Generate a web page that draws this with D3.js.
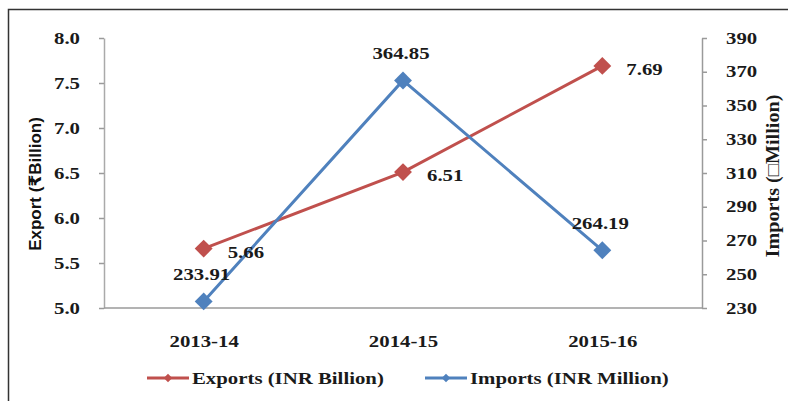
<!DOCTYPE html>
<html lang="en">
<head>
    <meta charset="UTF-8">
    <title>Exports and Imports</title>
    <style>
        body { margin: 0; background: #fff; }
        .serif { font-family: "Liberation Serif", "DejaVu Serif", serif; font-weight: bold; fill: #1a1a1a; }
    </style>
</head>
<body>
    <svg width="788" height="401" id="svg"></svg>
    <script src="https://d3js.org/d3.v7.min.js"></script>
    <script>
        // data
        const years = ["2013-14", "2014-15", "2015-16"]
        const exportsBn = [5.66, 6.51, 7.69]
        const importsMn = [233.91, 364.85, 264.19]
        const leftTicks = [5.0, 5.5, 6.0, 6.5, 7.0, 7.5, 8.0]
        const rightTicks = [230, 250, 270, 290, 310, 330, 350, 370, 390]

        const red = "#c0504d"
        const blue = "#4f81bd"
        const stretchK = 1.3

        const svg = d3.select("svg#svg")
        const plot = { left: 104, right: 702, top: 38, bottom: 308 }

        // outer frame (only top and left edges show)
        svg.append("rect")
            .attr("x", 8.5).attr("y", 9.5)
            .attr("width", 820).attr("height", 420)
            .attr("fill", "none").attr("stroke", "#333").attr("stroke-width", 1.5)

        const x = d3.scalePoint().domain(years).range([plot.left, plot.right]).padding(0.5)
        const yL = d3.scaleLinear().domain([5, 8]).range([plot.bottom, plot.top])
        const yR = d3.scaleLinear().domain([230, 390]).range([plot.bottom, plot.top])

        function styleAxis(g) {
            g.selectAll("path, line").attr("stroke", "#9a9a9a").attr("stroke-width", 1.5)
            g.selectAll("text").attr("class", "serif").attr("font-size", 16)
        }

        // stretch text horizontally like the source image
        function stretch(sel, k = stretchK) {
            sel.each(function () {
                const w = this.getComputedTextLength()
                d3.select(this).attr("textLength", w * k).attr("lengthAdjust", "spacingAndGlyphs")
            })
        }

        const gL = svg.append("g").attr("transform", `translate(${plot.left},0)`)
            .call(d3.axisLeft(yL).tickValues(leftTicks).tickFormat(d3.format(".1f")).tickSize(5).tickPadding(19).tickSizeOuter(0))
        gL.call(styleAxis)
        gL.select(".domain").attr("stroke", "#aaa")

        const gR = svg.append("g").attr("transform", `translate(${plot.right},0)`)
            .call(d3.axisRight(yR).tickValues(rightTicks).tickSize(5).tickPadding(19).tickSizeOuter(0))
        gR.call(styleAxis)

        const gB = svg.append("g").attr("transform", `translate(0,${plot.bottom})`)
            .call(d3.axisBottom(x).tickSize(0).tickPadding(28))
        gB.call(styleAxis)
        gB.select(".domain").attr("d", `M${plot.left},0H${plot.right}`)

        svg.selectAll("g.tick text").call(stretch)

        // axis titles
        svg.append("text")
            .attr("transform", "translate(41,184) rotate(-90)")
            .attr("text-anchor", "middle")
            .attr("font-family", "Liberation Sans, Arial, DejaVu Sans, sans-serif")
            .attr("font-weight", "bold").attr("font-size", 17).attr("fill", "#111")
            .text("Export (₹Billion)")

        svg.append("text")
            .attr("class", "serif")
            .attr("transform", "translate(779,176) rotate(-90)")
            .attr("text-anchor", "middle")
            .attr("font-size", 18)
            .text("Imports (□Million)")
            .call(stretch, 1.12)

        const diamond = d3.symbol().type(d3.symbolSquare).size(160)

        function drawSeries(values, yScale, color) {
            const pts = values.map((v, i) => [x(years[i]), yScale(v)])
            svg.append("path")
                .attr("d", d3.line()(pts))
                .attr("fill", "none").attr("stroke", color).attr("stroke-width", 3)
            svg.selectAll(null).data(pts).enter().append("path")
                .attr("d", diamond)
                .attr("transform", d => `translate(${d[0]},${d[1]}) rotate(45)`)
                .attr("fill", color)
            return pts
        }

        const redPts = drawSeries(exportsBn, yL, red)
        const bluePts = drawSeries(importsMn, yR, blue)

        // data labels
        svg.selectAll(null).data(redPts).enter().append("text")
            .attr("class", "serif").attr("font-size", 16)
            .attr("x", d => d[0] + 24).attr("y", d => d[1] + 9)
            .text((d, i) => exportsBn[i].toFixed(2))
            .call(stretch)

        svg.selectAll(null).data(bluePts).enter().append("text")
            .attr("class", "serif").attr("font-size", 16)
            .attr("text-anchor", "middle")
            .attr("x", d => d[0] - 2).attr("y", d => d[1] - 21)
            .text((d, i) => importsMn[i].toFixed(2))
            .call(stretch)

        // legend
        const legend = [
            { name: "Exports (INR Billion)", color: red, x: 147 },
            { name: "Imports (INR Million)", color: blue, x: 425 }
        ]
        const lg = svg.selectAll(null).data(legend).enter().append("g")
            .attr("transform", d => `translate(${d.x},378)`)
        lg.append("line").attr("x1", 0).attr("x2", 42)
            .attr("stroke", d => d.color).attr("stroke-width", 3)
        lg.append("path").attr("d", d3.symbol().type(d3.symbolSquare).size(36))
            .attr("transform", "translate(21,0) rotate(45)")
            .attr("fill", d => d.color)
        lg.append("text").attr("class", "serif").attr("font-size", 16)
            .attr("x", 45).attr("y", 6)
            .text(d => d.name)
            .call(stretch)
    </script>
</body>
</html>
